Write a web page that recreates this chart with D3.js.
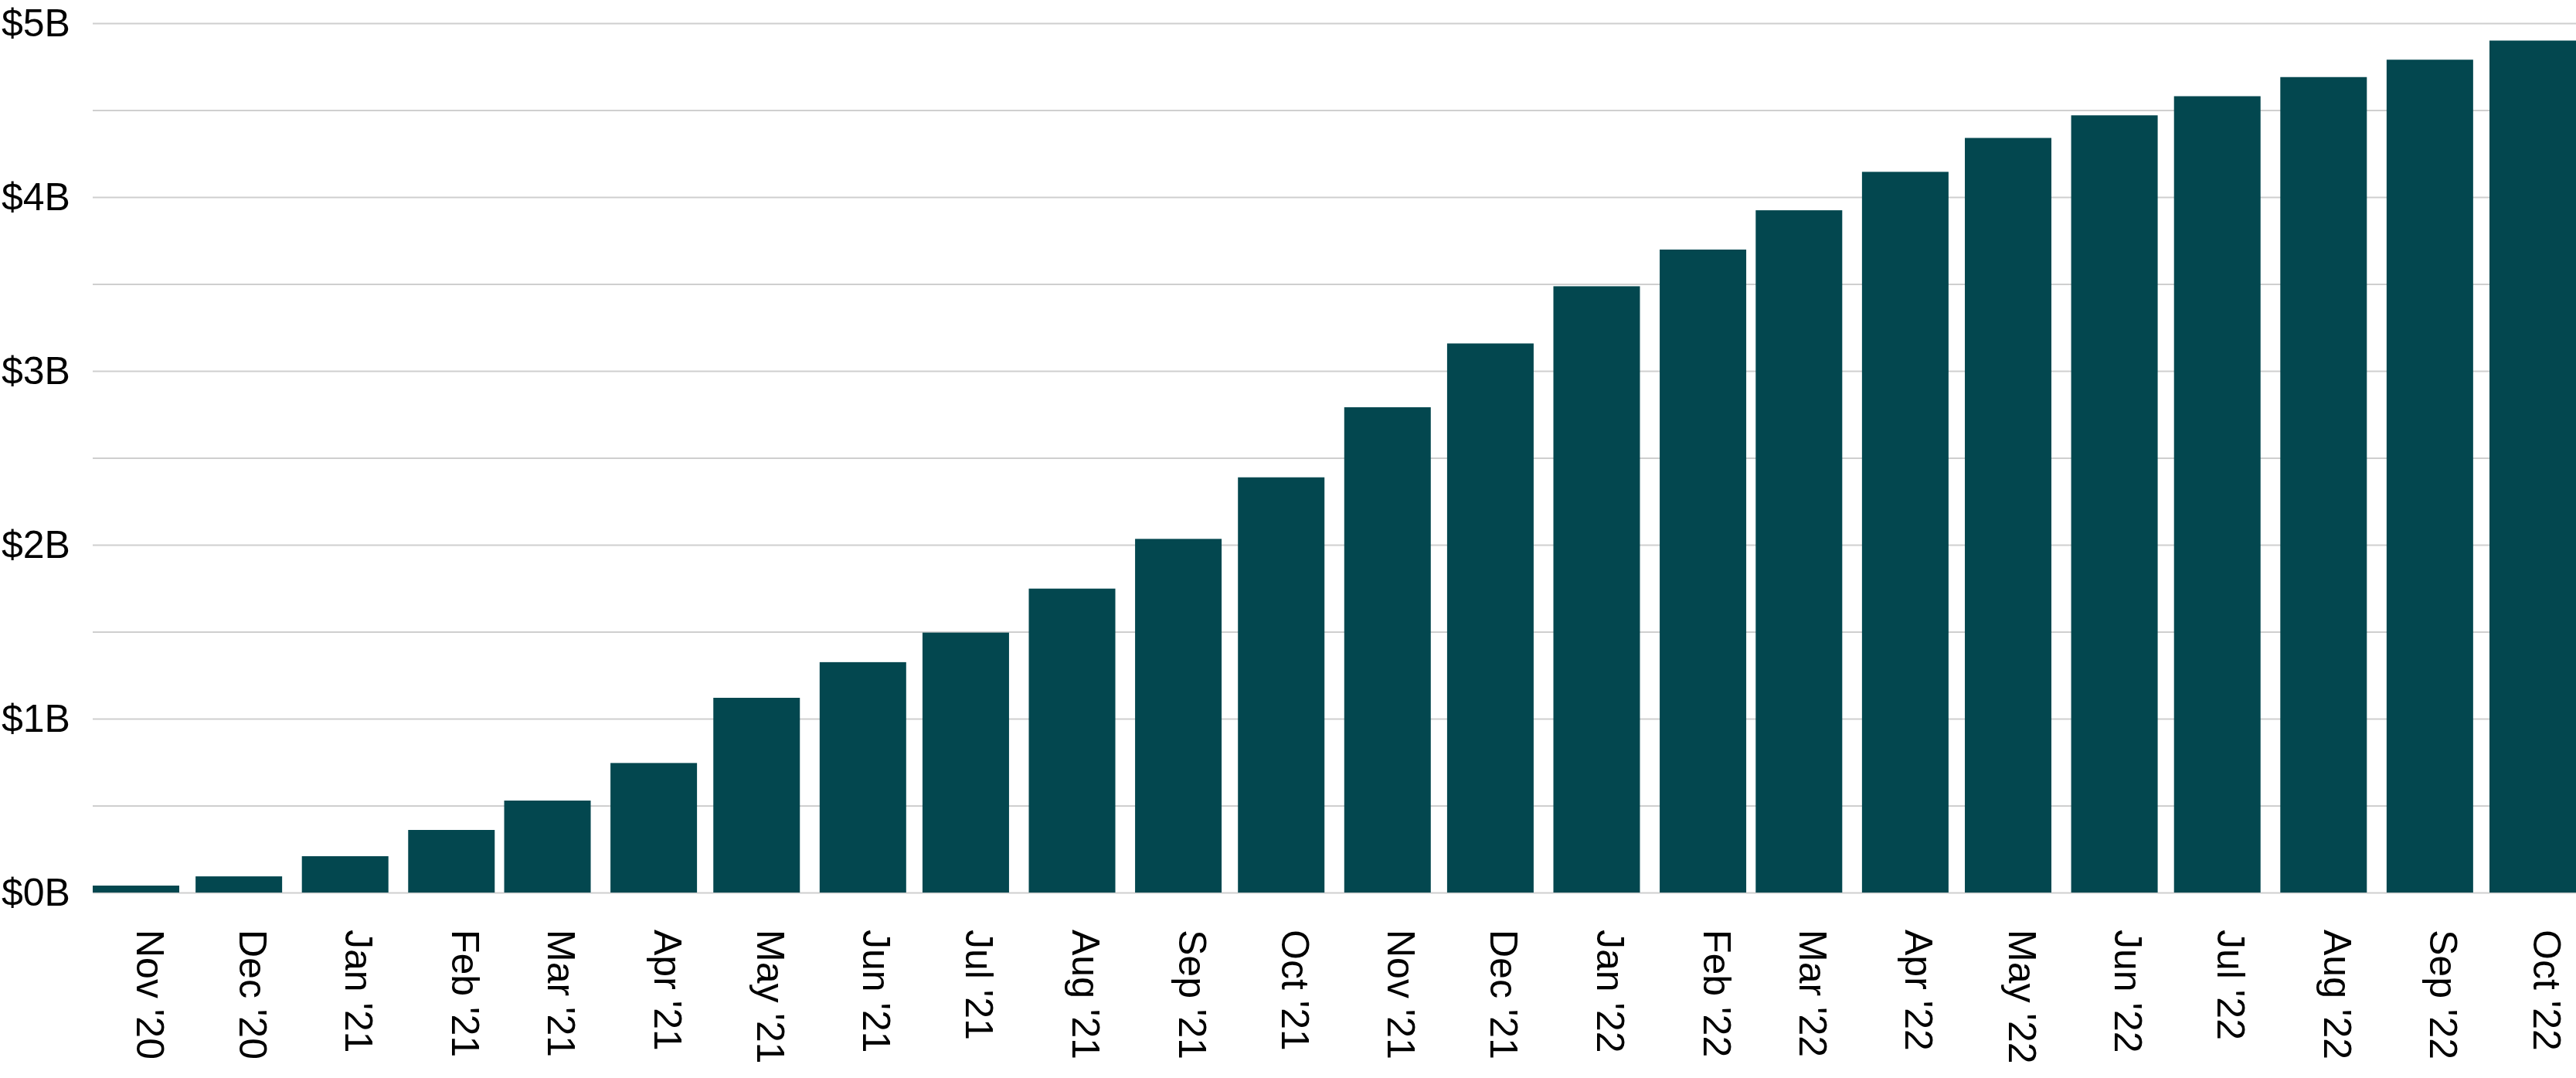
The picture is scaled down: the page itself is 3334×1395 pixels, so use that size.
<!DOCTYPE html>
<html>
<head>
<meta charset="utf-8">
<script src="https://cdn.jsdelivr.net/npm/d3@7"></script>
<style>
  body { margin: 0; background: #fff; }
  text { font-family: "Liberation Sans", Arial, sans-serif; }
</style>
</head>
<body>
<script>
// Cumulative total, billions of dollars, one bar per month
const months = ["2020-11", "2020-12", "2021-01", "2021-02", "2021-03", "2021-04",
    "2021-05", "2021-06", "2021-07", "2021-08", "2021-09", "2021-10",
    "2021-11", "2021-12", "2022-01", "2022-02", "2022-03", "2022-04",
    "2022-05", "2022-06", "2022-07", "2022-08", "2022-09", "2022-10"];
const values = [0.04, 0.093, 0.209, 0.36, 0.529, 0.745,
    1.12, 1.325, 1.495, 1.748, 2.034, 2.388,
    2.791, 3.158, 3.487, 3.698, 3.924, 4.145,
    4.34, 4.47, 4.58, 4.69, 4.79, 4.90];
const gridValues = [0, 0.5, 1, 1.5, 2, 2.5, 3, 3.5, 4, 4.5, 5];
const yLabelValues = [0, 1, 2, 3, 4, 5];

const width = 3334,
    height = 1395;
const margin = {top: 30, right: 0, bottom: 240, left: 120};
const barW = 112;
const barColor = "#03474f";

const parseMonth = d3.timeParse("%Y-%m");
const data = months.map((m, i) => ({date: parseMonth(m), value: values[i]}));

const svg = d3.select("body").append("svg")
    .attr("width", width)
    .attr("height", height);

// time scale: bars sit on the first day of each month
const x = d3.scaleTime()
    .domain(d3.extent(data, d => d.date))
    .range([margin.left, width - margin.right - barW]);

const y = d3.scaleLinear()
    .domain([0, 5])
    .range([height - margin.bottom, margin.top]);

// gridlines + y labels
const yAxis = svg.append("g")
    .attr("transform", `translate(${margin.left},0)`)
    .call(d3.axisLeft(y)
        .tickValues(gridValues)
        .tickSize(-(width - margin.left - margin.right))
        .tickFormat(d => yLabelValues.includes(d) ? `$${d}B` : ""));

yAxis.select(".domain").remove();
yAxis.selectAll(".tick line")
    .attr("stroke", "#cfcfcf")
    .attr("stroke-width", 2);
yAxis.selectAll(".tick text")
    .attr("x", -118)
    .attr("text-anchor", "start")
    .attr("font-size", 50)
    .attr("fill", "#000");

// bars
svg.append("g")
    .selectAll("rect")
    .data(data)
    .join("rect")
    .attr("x", d => x(d.date))
    .attr("y", d => y(d.value))
    .attr("width", barW)
    .attr("height", d => y(0) - y(d.value))
    .attr("fill", barColor);

// month labels, rotated to read downwards
const xAxis = svg.append("g")
    .attr("transform", `translate(${barW / 2},${y(0)})`)
    .call(d3.axisBottom(x)
        .tickValues(data.map(d => d.date))
        .tickSize(0)
        .tickFormat(d3.timeFormat("%b '%y")));

xAxis.select(".domain").remove();
xAxis.selectAll(".tick text")
    .attr("x", 0)
    .attr("y", 0)
    .attr("dy", null)
    .attr("text-anchor", "start")
    .attr("font-size", 50)
    .attr("fill", "#000")
    .attr("transform", "translate(0,48) rotate(90)");
</script>
</body>
</html>
